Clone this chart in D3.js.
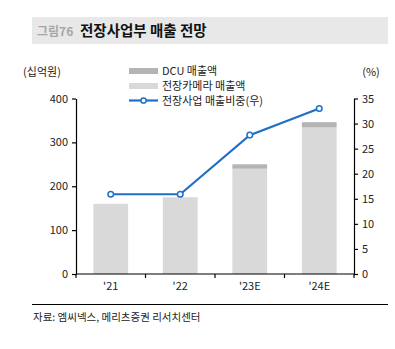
<!DOCTYPE html>
<html><head><meta charset="utf-8">
<script src="https://cdn.jsdelivr.net/npm/d3@7"></script>
<style>
body{margin:0;background:#fff;}
text{font-family:"Noto Sans CJK KR","Noto Sans",sans-serif;}
</style></head>
<body><svg id="c" width="395" height="349"></svg>
<script>
const categories = ["'21", "'22", "'23E", "'24E"];
const cameraSales = [160, 175, 240, 334];
const dcuSales = [0, 0, 10, 12];
const sharePct = [15.9, 15.9, 27.7, 33.0];
const leftTicks = [0, 100, 200, 300, 400];
const rightTicks = [0, 5, 10, 15, 20, 25, 30, 35];
const legendLabels = ["DCU 매출액", "전장카메라 매출액", "전장사업 매출비중(우)"];

const svg = d3.select("#c");
const L = 76, R = 354, T = 98.5, B = 274;
const fs = "11px";

// header
svg.append("rect").attr("x",32).attr("y",17).attr("width",356).attr("height",27).attr("fill","#e8e8e8");
svg.append("text").attr("x",37).attr("y",35.5).attr("font-size","12px").attr("font-weight","bold").attr("fill","#a6a6a6").text("그림76");
svg.append("text").attr("x",80).attr("y",36).attr("font-size","14.5px").attr("font-weight","bold").attr("fill","#111").text("전장사업부 매출 전망");

const x = d3.scaleBand().domain(categories).range([L,R]).paddingInner(0).paddingOuter(0);
const yL = d3.scaleLinear().domain([0,400]).range([B,T]);
const yR = d3.scaleLinear().domain([0,35]).range([B,T]);
const bw = x.bandwidth()*0.5;

// bars
const g = svg.append("g");
categories.forEach((c,i)=>{
  const cx = x(c)+x.bandwidth()/2;
  g.append("rect").attr("x",cx-bw/2).attr("width",bw)
    .attr("y",yL(cameraSales[i])).attr("height",yL(0)-yL(cameraSales[i])).attr("fill","#d9d9d9");
  if(dcuSales[i]>0){
    g.append("rect").attr("x",cx-bw/2).attr("width",bw)
      .attr("y",yL(cameraSales[i]+dcuSales[i])).attr("height",yL(cameraSales[i])-yL(cameraSales[i]+dcuSales[i])).attr("fill","#b4b4b4");
  }
});

// axes
const axL = svg.append("g").attr("transform",`translate(${L},0)`).call(d3.axisLeft(yL).tickValues(leftTicks).tickSize(4).tickSizeOuter(0).tickPadding(4));
const axR = svg.append("g").attr("transform",`translate(${R},0)`).call(d3.axisRight(yR).tickValues(rightTicks).tickSize(4).tickSizeOuter(0).tickPadding(4));
const axB = svg.append("g").attr("transform",`translate(0,${B})`).call(d3.axisBottom(x).tickSize(0).tickPadding(8));
// category boundary ticks
const bounds = categories.map(c=>x(c)).concat([R]);
svg.append("g").selectAll("line").data(bounds).join("line")
  .attr("x1",d=>d).attr("x2",d=>d).attr("y1",B).attr("y2",B+4).attr("stroke","#000").attr("stroke-width",1.2);
[axL,axR,axB].forEach(a=>{
  a.selectAll("path").attr("stroke","#000").attr("stroke-width",1.2);
  a.selectAll("line").attr("stroke","#000").attr("stroke-width",1.2);
  a.selectAll("text").attr("font-size",fs).attr("fill","#222").attr("font-family",'"Noto Sans CJK KR","Noto Sans",sans-serif');
});
axB.select(".domain").attr("d",`M${L},0H${R}`);

// line
const lineGen = d3.line().x((d,i)=>x(categories[i])+x.bandwidth()/2).y(d=>yR(d));
svg.append("path").datum(sharePct).attr("d",lineGen).attr("fill","none").attr("stroke","#1f6fc7").attr("stroke-width",2.2);
svg.append("g").selectAll("circle").data(sharePct).join("circle")
  .attr("cx",(d,i)=>x(categories[i])+x.bandwidth()/2).attr("cy",d=>yR(d)).attr("r",2.8)
  .attr("fill","#fff").attr("stroke","#1f6fc7").attr("stroke-width",1.5);

// unit labels
svg.append("text").attr("x",42).attr("y",76).attr("font-size",fs).attr("text-anchor","middle").attr("fill","#222").text("(십억원)");
svg.append("text").attr("x",371).attr("y",76).attr("font-size",fs).attr("text-anchor","middle").attr("fill","#222").text("(%)");

// legend
const lx = 129, lw = 29;
svg.append("rect").attr("x",lx).attr("y",68).attr("width",lw).attr("height",6).attr("fill","#b4b4b4");
svg.append("rect").attr("x",lx).attr("y",83).attr("width",lw).attr("height",6).attr("fill","#d9d9d9");
svg.append("line").attr("x1",lx).attr("x2",lx+lw).attr("y1",100.5).attr("y2",100.5).attr("stroke","#1f6fc7").attr("stroke-width",2.2);
svg.append("circle").attr("cx",lx+lw/2).attr("cy",100.5).attr("r",2.6).attr("fill","#fff").attr("stroke","#1f6fc7").attr("stroke-width",1.5);
[75,90,104.5].forEach((yy,i)=>{
  svg.append("text").attr("x",162).attr("y",yy).attr("font-size",fs).attr("fill","#222").text(legendLabels[i]);
});

// footer
svg.append("line").attr("x1",32).attr("x2",388).attr("y1",304.5).attr("y2",304.5).attr("stroke","#000").attr("stroke-width",1);
svg.append("text").attr("x",33).attr("y",321).attr("font-size","10.5px").attr("fill","#222").text("자료: 엠씨넥스, 메리츠증권 리서치센터");
</script></body></html>
